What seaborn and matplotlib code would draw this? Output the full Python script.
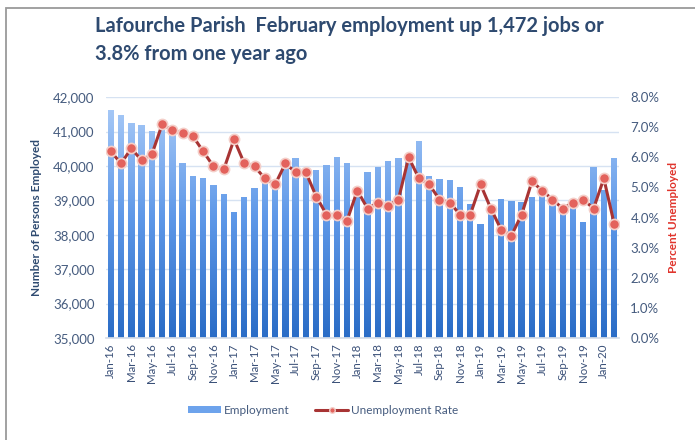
import numpy as np
import pandas as pd
import seaborn as sns
import matplotlib.pyplot as plt
from matplotlib.path import Path
from matplotlib.patches import PathPatch, Rectangle, Patch
from matplotlib.colors import LinearSegmentedColormap
from matplotlib.ticker import FuncFormatter, PercentFormatter
from matplotlib.lines import Line2D

# data
months = list(pd.date_range("2016-01-01", "2020-02-01", freq="MS").strftime("%b-%y"))
employment = [41630, 41470, 41250, 41200, 41020, 41050, 40900, 40080, 39720, 39640,
              39440, 39190, 38650, 39090, 39360, 39600, 39500, 40000, 40230, 39900,
              39870, 40020, 40260, 40090, 39250, 39830, 39960, 40140, 40230, 40350,
              40720, 39720, 39610, 39580, 39390, 38900, 38320, 38760, 39050, 38980,
              38950, 39100, 39150, 38900, 38850, 38950, 38380, 39980, 39300, 40240]
unemp_rate = [6.2, 5.8, 6.3, 5.9, 6.1, 7.1, 6.9, 6.8, 6.7, 6.2,
              5.7, 5.6, 6.6, 5.8, 5.7, 5.3, 5.1, 5.8, 5.5, 5.5,
              4.7, 4.1, 4.1, 3.9, 4.9, 4.3, 4.5, 4.4, 4.6, 6.0,
              5.3, 5.1, 4.6, 4.5, 4.1, 4.1, 5.1, 4.3, 3.6, 3.4,
              4.1, 5.2, 4.9, 4.6, 4.3, 4.5, 4.6, 4.3, 5.3, 3.8]
title = "Lafourche Parish  February employment up 1,472 jobs or\n3.8% from one year ago"

df = pd.DataFrame({"month": months, "Employment": employment, "rate": unemp_rate})

sns.set_theme(style="white")
plt.rcParams["font.family"] = ["Lato", "DejaVu Sans"]

txt = "#455B7E"
navy = "#2E4A70"
red_line = "#A83434"
red_dot = "#E3625C"
n = len(months)

fig = plt.figure(figsize=(6.95, 4.4), dpi=100)
ax = fig.add_axes([0.152, 0.232, 0.739, 0.547])

sns.barplot(data=df, x="month", y="Employment", ax=ax, width=0.62,
            color="#5B96E6", edgecolor="none", zorder=2)
ax.set_ylim(35000, 42000)
ax.set_xlim(-0.5, n - 0.5)

# gradient fill clipped to the bars (paths in data coords)
bars = list(ax.patches)
paths = [b.get_patch_transform().transform_path(b.get_path()) for b in bars]
clip = PathPatch(Path.make_compound_path(*paths), transform=ax.transData,
                 facecolor="none", edgecolor="none")
ax.add_patch(clip)
cmap = LinearSegmentedColormap.from_list("bars", ["#2A6CC6", "#5E98E8", "#ADCDF8"])
grad = np.linspace(0, 1, 256).reshape(-1, 1)
im = ax.imshow(grad, extent=[-0.5, n - 0.5, 35000, 42000], origin="lower",
               aspect="auto", cmap=cmap, zorder=2.5)
im.set_clip_path(clip)
for b in bars:
    b.set_alpha(0)
ax.set_ylim(35000, 42000)

ax.yaxis.grid(True, color="#D6E2F2", lw=1, zorder=0)
ax.set_axisbelow(True)
ax.yaxis.set_major_formatter(FuncFormatter(lambda v, _: f"{v:,.0f}"))
ax.set_ylabel("Number of Persons Employed", color=navy, fontsize=8.5, fontweight="bold", labelpad=8)
ax.set_xlabel("")
ax.tick_params(axis="y", colors=txt, labelsize=9.5, length=0, pad=8)
for s in ["top", "right", "left"]:
    ax.spines[s].set_visible(False)
ax.spines["bottom"].set_color("#D6DDE8")

ax2 = ax.twinx()
sns.pointplot(data=df, x="month", y="rate", ax=ax2, color=red_line, errorbar=None,
              markers="o", markersize=7.3, linewidth=2.2,
              markerfacecolor=red_dot, markeredgecolor="#F4CFC9", markeredgewidth=1.2)
ax2.set_ylim(0, 8)
ax2.yaxis.set_major_locator(plt.MultipleLocator(1))
ax2.yaxis.set_major_formatter(PercentFormatter(decimals=1))
ax2.set_ylabel("Percent Unemployed", color="#E0342C", fontsize=8.5, fontweight="bold", labelpad=6)
ax2.set_xlabel("")
ax2.tick_params(axis="y", colors=txt, labelsize=9.5, length=0, pad=8)
for s in ax2.spines.values():
    s.set_visible(False)
ax2.grid(False)

ax.set_xlim(-0.5, n - 0.5)
ax.set_xticks(range(0, n, 2))
ax.set_xticklabels(months[::2], rotation=90, fontsize=8.3, color="#3A5078")
ax.tick_params(axis="x", length=0, pad=4)

fig.text(0.137, 0.855, title, fontsize=14.5, color=navy, fontweight="bold",
         ha="left", va="bottom", linespacing=1.5)

handles = [Patch(facecolor="#6DA3EC", edgecolor="none"),
           Line2D([0], [0], color=red_line, lw=2.2, marker="o", markersize=4,
                  markerfacecolor=red_dot, markeredgecolor="#F4CFC9")]
fig.legend(handles, ["Employment", "Unemployment Rate"], loc="center",
           bbox_to_anchor=(0.465, 0.068), ncol=2, frameon=False, fontsize=8.5,
           labelcolor=txt, handlelength=2.8, handleheight=0.5, handletextpad=0.2,
           columnspacing=2.2)

fig.patches.append(Rectangle((6 / 695, -0.05), 1.2, 1 - 8 / 440 + 0.05, transform=fig.transFigure,
                             fill=False, edgecolor="#9A9A9A", lw=1.3))

fig.savefig("out.png", dpi=100)
